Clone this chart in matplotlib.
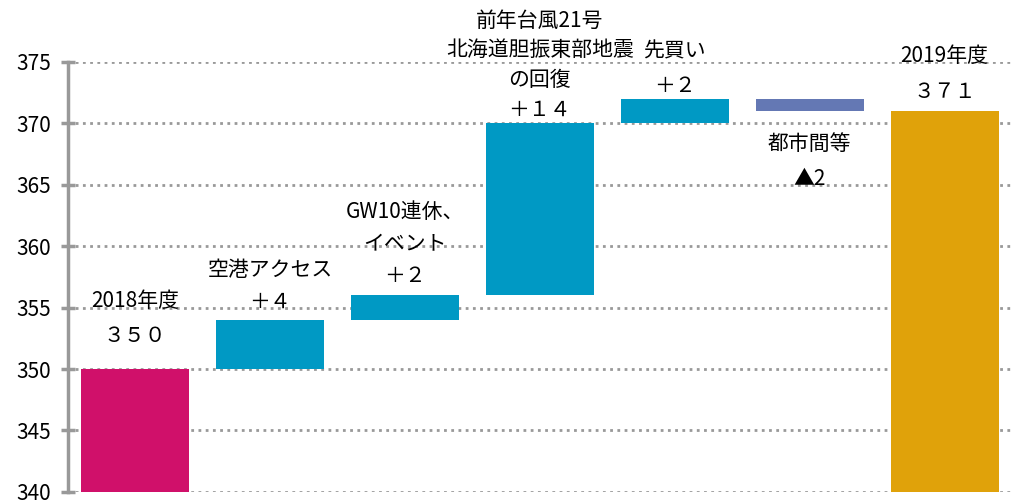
import numpy as np
import matplotlib
matplotlib.use("Agg")
import matplotlib.pyplot as plt

plt.rcParams['font.family'] = ['Noto Sans CJK JP', 'DejaVu Sans']

# waterfall data
start_value = 350
end_value = 371
deltas = [4, 2, 14, 2, -1]
labels = ["2018年度\n３５０",
          "空港アクセス\n＋４",
          "GW10連休、\nイベント\n＋２",
          "前年台風21号\n北海道胆振東部地震\nの回復\n＋１４",
          "先買い\n＋２",
          "都市間等\n▲2",
          "2019年度\n３７１"]
colors = ["#D0106A", "#0099C4", "#0099C4", "#0099C4", "#0099C4", "#6478B4", "#E0A20A"]
yticks = [340, 345, 350, 355, 360, 365, 370, 375]


def main():
    bottoms = [0]
    heights = [start_value]
    level = start_value
    for d in deltas:
        bottoms.append(min(level, level + d))
        heights.append(abs(d))
        level += d
    bottoms.append(0)
    heights.append(end_value)
    x = np.arange(len(heights))

    fig = plt.figure(figsize=(10.12, 5.04), dpi=100)
    ax = fig.add_axes([0.067, 0.024, 0.933, 0.853])
    ax.bar(x, heights, bottom=bottoms, width=0.8, color=colors, zorder=2)

    ax.set_ylim(340, 375)
    ax.set_xlim(-0.5, len(x) - 0.5)
    ax.set_yticks(yticks)
    ax.set_xticks([])
    ax.yaxis.grid(True, color="#999999", lw=2, linestyle=(0, (1, 1.6)))
    ax.set_axisbelow(True)
    for s in ["top", "right", "bottom"]:
        ax.spines[s].set_visible(False)
    ax.spines["left"].set_color("#999999")
    ax.spines["left"].set_linewidth(2.5)
    ax.tick_params(axis="y", direction="inout", length=10, width=2.5,
                   color="#999999", labelsize=15, pad=7)

    # label offsets (points) from the bar edge and line spacing
    offsets = [16, 5, 6, 2, 1, -16, 6]
    spacing = [1.75, 1.6, 1.6, 1.45, 1.75, 1.75, 1.8]
    for i in range(len(x)):
        top = bottoms[i] + heights[i]
        if i == 5:
            ax.annotate(labels[i], (x[i], bottoms[i]), xytext=(0, offsets[i]),
                        textcoords="offset points", ha="center", va="top",
                        fontsize=15, linespacing=spacing[i])
        else:
            ax.annotate(labels[i], (x[i], top), xytext=(0, offsets[i]),
                        textcoords="offset points", ha="center", va="bottom",
                        fontsize=15, linespacing=spacing[i], annotation_clip=False)

    plt.savefig("out.png", dpi=100)


if __name__ == '__main__':
    main()
